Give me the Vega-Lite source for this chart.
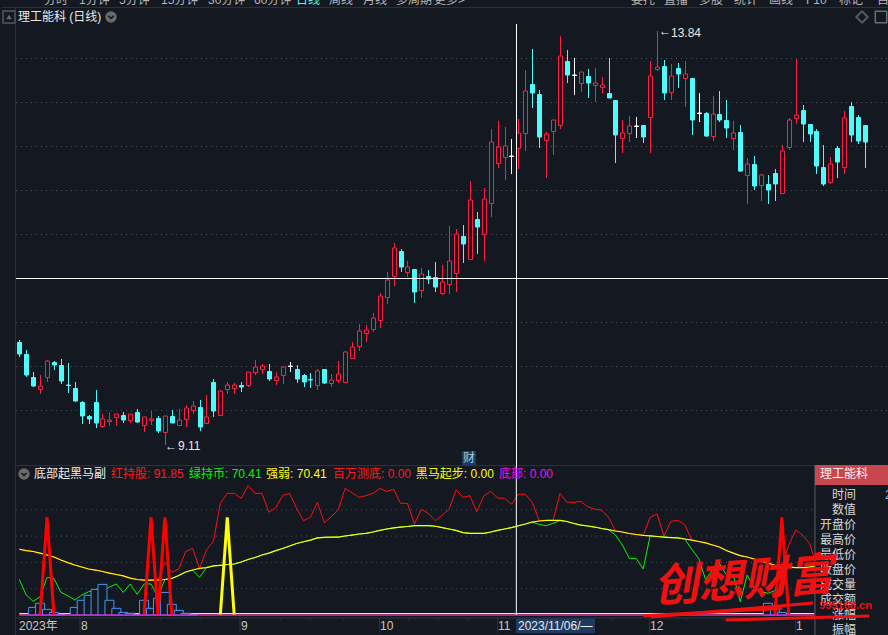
{"$schema":"https://vega.github.io/schema/vega-lite/v6.json","background":"#141820","padding":0,"spacing":0,"bounds":"flush","resolve":{"scale":{"color":"independent","stroke":"independent","fill":"independent"}},"config":{"view":{"stroke":null},"text":{"font":"Liberation Sans, Noto Sans CJK SC"}},
"datasets":{
"candles":[
{"i":0,"t":"down","o":10.29,"h":10.31,"l":10.12,"c":10.15},{"i":1,"t":"down","o":10.15,"h":10.19,"l":9.89,"c":9.91},{"i":2,"t":"down","o":9.89,"h":9.94,"l":9.77,"c":9.78},{"i":3,"t":"up","o":9.75,"h":9.91,"l":9.69,"c":9.78},{"i":4,"t":"up","o":9.89,"h":10.08,"l":9.83,"c":10.07},{"i":5,"t":"down","o":10.06,"h":10.07,"l":9.97,"c":10.02},{"i":6,"t":"down","o":10.02,"h":10.09,"l":9.81,"c":9.84},{"i":7,"t":"down","o":9.8,"h":10.05,"l":9.7,"c":9.79},{"i":8,"t":"down","o":9.76,"h":9.83,"l":9.6,"c":9.61},{"i":9,"t":"down","o":9.6,"h":9.61,"l":9.35,"c":9.44},
{"i":10,"t":"down","o":9.44,"h":9.45,"l":9.35,"c":9.41},{"i":11,"t":"down","o":9.6,"h":9.74,"l":9.3,"c":9.36},{"i":12,"t":"up","o":9.33,"h":9.46,"l":9.3,"c":9.41},{"i":13,"t":"up","o":9.38,"h":9.49,"l":9.33,"c":9.4},{"i":14,"t":"up","o":9.43,"h":9.46,"l":9.33,"c":9.46},{"i":15,"t":"down","o":9.45,"h":9.49,"l":9.36,"c":9.4},{"i":16,"t":"up","o":9.4,"h":9.46,"l":9.36,"c":9.46},{"i":17,"t":"down","o":9.49,"h":9.52,"l":9.36,"c":9.37},{"i":18,"t":"up","o":9.34,"h":9.43,"l":9.26,"c":9.43},{"i":19,"t":"up","o":9.39,"h":9.5,"l":9.34,"c":9.41},
{"i":20,"t":"down","o":9.42,"h":9.44,"l":9.25,"c":9.27},{"i":21,"t":"up","o":9.26,"h":9.44,"l":9.11,"c":9.44},{"i":22,"t":"down","o":9.44,"h":9.51,"l":9.36,"c":9.36},{"i":23,"t":"up","o":9.34,"h":9.52,"l":9.33,"c":9.4},{"i":24,"t":"up","o":9.41,"h":9.57,"l":9.32,"c":9.53},{"i":25,"t":"up","o":9.51,"h":9.61,"l":9.46,"c":9.55},{"i":26,"t":"down","o":9.54,"h":9.62,"l":9.27,"c":9.32},{"i":27,"t":"up","o":9.36,"h":9.68,"l":9.35,"c":9.43},{"i":28,"t":"down","o":9.83,"h":9.86,"l":9.43,"c":9.5},{"i":29,"t":"up","o":9.45,"h":9.74,"l":9.44,"c":9.73},
{"i":30,"t":"up","o":9.75,"h":9.83,"l":9.69,"c":9.8},{"i":31,"t":"up","o":9.76,"h":9.82,"l":9.69,"c":9.8},{"i":32,"t":"down","o":9.8,"h":9.83,"l":9.72,"c":9.77},{"i":33,"t":"up","o":9.8,"h":9.94,"l":9.77,"c":9.94},{"i":34,"t":"up","o":9.94,"h":10.08,"l":9.91,"c":10.0},{"i":35,"t":"up","o":9.98,"h":10.04,"l":9.92,"c":10.01},{"i":36,"t":"down","o":9.96,"h":10.04,"l":9.84,"c":9.86},{"i":37,"t":"up","o":9.85,"h":9.94,"l":9.79,"c":9.89},{"i":38,"t":"up","o":9.91,"h":10.01,"l":9.81,"c":10.0},{"i":39,"t":"flat","o":10.01,"h":10.06,"l":9.94,"c":10.01},
{"i":40,"t":"down","o":9.98,"h":10.02,"l":9.82,"c":9.86},{"i":41,"t":"down","o":9.91,"h":9.92,"l":9.77,"c":9.83},{"i":42,"t":"down","o":9.86,"h":9.93,"l":9.76,"c":9.85},{"i":43,"t":"up","o":9.79,"h":9.98,"l":9.74,"c":9.96},{"i":44,"t":"down","o":9.98,"h":9.98,"l":9.81,"c":9.82},{"i":45,"t":"up","o":9.82,"h":9.92,"l":9.77,"c":9.85},{"i":46,"t":"up","o":9.85,"h":10.07,"l":9.82,"c":9.92},{"i":47,"t":"up","o":9.83,"h":10.18,"l":9.82,"c":10.17},{"i":48,"t":"up","o":10.1,"h":10.29,"l":10.09,"c":10.23},{"i":49,"t":"up","o":10.24,"h":10.49,"l":10.18,"c":10.41},
{"i":50,"t":"up","o":10.39,"h":10.48,"l":10.29,"c":10.42},{"i":51,"t":"up","o":10.44,"h":10.62,"l":10.4,"c":10.56},{"i":52,"t":"up","o":10.54,"h":10.85,"l":10.45,"c":10.81},{"i":53,"t":"up","o":10.8,"h":11.09,"l":10.72,"c":11.0},{"i":54,"t":"up","o":11.04,"h":11.42,"l":10.93,"c":11.36},{"i":55,"t":"down","o":11.33,"h":11.35,"l":11.09,"c":11.14},{"i":56,"t":"up","o":11.09,"h":11.21,"l":11.03,"c":11.14},{"i":57,"t":"down","o":11.12,"h":11.12,"l":10.73,"c":10.86},{"i":58,"t":"up","o":10.88,"h":11.13,"l":10.79,"c":11.06},{"i":59,"t":"down","o":11.04,"h":11.11,"l":10.95,"c":11.01},
{"i":60,"t":"down","o":11.03,"h":11.2,"l":10.86,"c":10.92},{"i":61,"t":"up","o":10.85,"h":11.17,"l":10.82,"c":10.97},{"i":62,"t":"up","o":10.95,"h":11.61,"l":10.84,"c":11.21},{"i":63,"t":"up","o":11.08,"h":11.58,"l":10.86,"c":11.52},{"i":64,"t":"down","o":11.5,"h":11.62,"l":11.19,"c":11.41},{"i":65,"t":"up","o":11.24,"h":12.13,"l":11.24,"c":11.91},{"i":66,"t":"down","o":11.69,"h":11.77,"l":11.29,"c":11.6},{"i":67,"t":"up","o":11.52,"h":12.05,"l":11.21,"c":11.92},{"i":68,"t":"up","o":11.88,"h":12.72,"l":11.71,"c":12.57},{"i":69,"t":"up","o":12.33,"h":12.81,"l":12.27,"c":12.52},
{"i":70,"t":"up","o":12.4,"h":12.74,"l":12.14,"c":12.53},{"i":71,"t":"flat","o":12.41,"h":12.61,"l":12.21,"c":12.41},{"i":72,"t":"up","o":12.5,"h":12.83,"l":12.26,"c":12.67},{"i":73,"t":"up","o":12.67,"h":13.39,"l":12.47,"c":13.15},{"i":74,"t":"down","o":13.23,"h":13.63,"l":12.96,"c":13.13},{"i":75,"t":"down","o":13.12,"h":13.17,"l":12.5,"c":12.63},{"i":76,"t":"up","o":12.59,"h":12.69,"l":12.16,"c":12.66},{"i":77,"t":"up","o":12.7,"h":12.82,"l":12.42,"c":12.82},{"i":78,"t":"up","o":12.77,"h":13.78,"l":12.72,"c":13.55},{"i":79,"t":"down","o":13.5,"h":13.62,"l":13.25,"c":13.34},
{"i":80,"t":"flat","o":13.34,"h":13.53,"l":13.11,"c":13.34},{"i":81,"t":"up","o":13.25,"h":13.37,"l":13.14,"c":13.37},{"i":82,"t":"down","o":13.33,"h":13.41,"l":13.07,"c":13.25},{"i":83,"t":"up","o":13.22,"h":13.42,"l":13.03,"c":13.24},{"i":84,"t":"up","o":13.2,"h":13.31,"l":13.13,"c":13.22},{"i":85,"t":"down","o":13.13,"h":13.53,"l":13.07,"c":13.07},{"i":86,"t":"down","o":13.05,"h":13.05,"l":12.33,"c":12.65},{"i":87,"t":"up","o":12.62,"h":12.82,"l":12.45,"c":12.68},{"i":88,"t":"up","o":12.68,"h":12.87,"l":12.57,"c":12.75},{"i":89,"t":"flat","o":12.75,"h":12.86,"l":12.62,"c":12.75},
{"i":90,"t":"down","o":12.77,"h":12.77,"l":12.56,"c":12.63},{"i":91,"t":"up","o":12.86,"h":13.5,"l":12.45,"c":13.32},{"i":92,"t":"up","o":13.4,"h":13.84,"l":13.38,"c":13.43},{"i":93,"t":"down","o":13.44,"h":13.51,"l":13.05,"c":13.13},{"i":94,"t":"up","o":13.14,"h":13.46,"l":13.05,"c":13.33},{"i":95,"t":"down","o":13.42,"h":13.47,"l":13.19,"c":13.35},{"i":96,"t":"up","o":13.3,"h":13.5,"l":12.97,"c":13.35},{"i":97,"t":"down","o":13.3,"h":13.3,"l":12.65,"c":12.82},{"i":98,"t":"flat","o":12.9,"h":13.13,"l":12.8,"c":12.9},{"i":99,"t":"down","o":12.9,"h":12.91,"l":12.63,"c":12.64},
{"i":100,"t":"up","o":12.64,"h":13.1,"l":12.58,"c":12.89},{"i":101,"t":"down","o":12.89,"h":13.15,"l":12.8,"c":12.82},{"i":102,"t":"down","o":12.82,"h":13.05,"l":12.62,"c":12.73},{"i":103,"t":"up","o":12.62,"h":12.81,"l":12.48,"c":12.67},{"i":104,"t":"down","o":12.69,"h":12.77,"l":12.23,"c":12.24},{"i":105,"t":"up","o":12.19,"h":12.39,"l":11.86,"c":12.32},{"i":106,"t":"down","o":12.32,"h":12.41,"l":12.02,"c":12.07},{"i":107,"t":"up","o":12.08,"h":12.21,"l":11.9,"c":12.2},{"i":108,"t":"down","o":12.09,"h":12.19,"l":11.86,"c":12.02},{"i":109,"t":"down","o":12.22,"h":12.26,"l":11.9,"c":12.09},
{"i":110,"t":"up","o":11.99,"h":12.54,"l":11.98,"c":12.47},{"i":111,"t":"up","o":12.52,"h":12.85,"l":12.48,"c":12.82},{"i":112,"t":"up","o":12.85,"h":13.52,"l":12.78,"c":12.88},{"i":113,"t":"down","o":12.94,"h":12.99,"l":12.57,"c":12.78},{"i":114,"t":"down","o":12.78,"h":12.78,"l":12.57,"c":12.66},{"i":115,"t":"down","o":12.7,"h":12.72,"l":12.21,"c":12.3},{"i":116,"t":"down","o":12.29,"h":12.54,"l":12.07,"c":12.09},{"i":117,"t":"up","o":12.11,"h":12.4,"l":12.09,"c":12.32},{"i":118,"t":"down","o":12.5,"h":12.53,"l":12.16,"c":12.34},{"i":119,"t":"up","o":12.29,"h":12.93,"l":12.21,"c":12.85},
{"i":120,"t":"down","o":12.98,"h":13.03,"l":12.57,"c":12.65},{"i":121,"t":"down","o":12.86,"h":12.88,"l":12.55,"c":12.58},{"i":122,"t":"down","o":12.77,"h":12.77,"l":12.27,"c":12.57}
],
"priceGrid":[{"i":-0.48,"b":125.46,"p":13.53},{"i":-0.48,"b":125.46,"p":13.03},{"i":-0.48,"b":125.46,"p":12.53},{"i":-0.48,"b":125.46,"p":12.02},{"i":-0.48,"b":125.46,"p":11.52},{"i":-0.48,"b":125.46,"p":10.52},{"i":-0.48,"b":125.46,"p":10.01},{"i":-0.48,"b":125.46,"p":9.51}],
"mainText":[
{"i":-0.19,"p":14.0,"label":"理工能科 (日线)","kind":"title"},
{"i":3.56,"p":14.19,"label":"分时","kind":"tool"},{"i":8.61,"p":14.19,"label":"1分钟","kind":"tool"},{"i":14.38,"p":14.19,"label":"5分钟","kind":"tool"},{"i":20.44,"p":14.19,"label":"15分钟","kind":"tool"},{"i":27.22,"p":14.19,"label":"30分钟","kind":"tool"},{"i":33.86,"p":14.19,"label":"60分钟","kind":"tool"},{"i":39.91,"p":14.19,"label":"日线","kind":"active"},{"i":44.68,"p":14.19,"label":"周线","kind":"tool"},{"i":49.58,"p":14.19,"label":"月线","kind":"tool"},{"i":54.34,"p":14.19,"label":"多周期","kind":"tool"},{"i":59.82,"p":14.19,"label":"更多>","kind":"tool"},
{"i":88.24,"p":14.19,"label":"委托","kind":"tool"},{"i":93.0,"p":14.19,"label":"直播","kind":"tool"},{"i":98.05,"p":14.19,"label":"多股","kind":"tool"},{"i":103.1,"p":14.19,"label":"统计","kind":"tool"},{"i":108.14,"p":14.19,"label":"画线","kind":"tool"},{"i":113.5,"p":14.19,"label":"F10","kind":"tool"},{"i":118.25,"p":14.19,"label":"标记","kind":"tool"},{"i":123.7,"p":14.19,"label":"自选","kind":"tool"},
{"i":21.0,"p":9.1,"label":"←","kind":"title"},{"i":22.9,"p":9.1,"label":"9.11","kind":"title"},{"i":92.3,"p":13.84,"label":"←","kind":"title"},{"i":94.0,"p":13.82,"label":"13.84","kind":"title"},
{"i":64.0,"p":8.96,"label":"财","kind":"badge"}
],
"mainIcons":[{"i":13.2,"p":14.0},{"i":-1.49,"p":14.0},{"i":121.6,"p":14.0},{"i":124.3,"p":14.0}],
"series":[
{"i":0,"y":50,"r":50,"g":27.1},{"i":1,"y":49,"r":49,"g":15.2},{"i":2,"y":48.3,"r":48.3,"g":10.4},{"i":3,"y":47.1,"r":47.1,"g":13.9},{"i":4,"y":45.6,"r":45.6,"g":28.6},{"i":5,"y":44.1,"r":44.1,"g":27.9},{"i":6,"y":41.8,"r":41.8,"g":17.2},{"i":7,"y":39.8,"r":39.8,"g":14.7},{"i":8,"y":38,"r":38,"g":11.4},{"i":9,"y":36.5,"r":36.5,"g":15.2},
{"i":10,"y":35,"r":35,"g":17.7},{"i":11,"y":34.2,"r":34.2,"g":19},{"i":12,"y":33.1,"r":33.1,"g":17.7},{"i":13,"y":31.9,"r":31.9,"g":21.3},{"i":14,"y":30.8,"r":30.8,"g":23.6},{"i":15,"y":29.7,"r":29.7,"g":17.2},{"i":16,"y":28.1,"r":28.1,"g":23.6},{"i":17,"y":27,"r":27,"g":15.7},{"i":18,"y":26.6,"r":26.6,"g":23.6},{"i":19,"y":26.6,"r":26.6,"g":23.6},
{"i":20,"y":26.6,"r":26.6,"g":13.9},{"i":21,"y":27,"r":40,"g":27},{"i":22,"y":27.8,"r":32.4,"g":27.8},{"i":23,"y":30,"r":35,"g":30},{"i":24,"y":32.7,"r":48.2,"g":32.7},{"i":25,"y":34.2,"r":50.7,"g":34.2},{"i":26,"y":35.4,"r":35.4,"g":28.6},{"i":27,"y":36.1,"r":49.4,"g":36.1},{"i":28,"y":37.3,"r":56,"g":37.3},{"i":29,"y":37.8,"r":84.9,"g":37.8},
{"i":30,"y":38.4,"r":92.5,"g":38.4},{"i":31,"y":38.8,"r":92.5,"g":38.8},{"i":32,"y":40.3,"r":88.7,"g":40.3},{"i":33,"y":42.2,"r":98.4,"g":42.2},{"i":34,"y":43.7,"r":92.5,"g":43.7},{"i":35,"y":45.6,"r":92.5,"g":45.6},{"i":36,"y":47.1,"r":78.1,"g":47.1},{"i":37,"y":49,"r":81.6,"g":49},{"i":38,"y":50.6,"r":91,"g":50.6},{"i":39,"y":52.5,"r":92.5,"g":52.5},
{"i":40,"y":54.4,"r":81.1,"g":54.4},{"i":41,"y":55.7,"r":71.7,"g":55.7},{"i":42,"y":57,"r":74.3,"g":57},{"i":43,"y":58.6,"r":85.7,"g":58.6},{"i":44,"y":59.1,"r":70.2,"g":59.1},{"i":45,"y":59.2,"r":74.8,"g":59.2},{"i":46,"y":59.3,"r":79.8,"g":59.3},{"i":47,"y":60.1,"r":96.3,"g":60.1},{"i":48,"y":60.8,"r":93,"g":60.8},{"i":49,"y":61.6,"r":89.5,"g":61.6},
{"i":50,"y":62.1,"r":90.7,"g":62.1},{"i":51,"y":63.1,"r":92.5,"g":63.1},{"i":52,"y":64.3,"r":96.3,"g":64.3},{"i":53,"y":65.4,"r":94,"g":65.4},{"i":54,"y":66.2,"r":95.6,"g":66.2},{"i":55,"y":66.9,"r":84.9,"g":66.9},{"i":56,"y":67.3,"r":84.9,"g":67.3},{"i":57,"y":67.9,"r":69.2,"g":67.9},{"i":58,"y":67.9,"r":80.4,"g":67.9},{"i":59,"y":67.9,"r":77.3,"g":67.9},
{"i":60,"y":67.5,"r":71.7,"g":67.5},{"i":61,"y":66.5,"r":76,"g":66.5},{"i":62,"y":65.4,"r":80.4,"g":65.4},{"i":63,"y":64.3,"r":95.1,"g":64.3},{"i":64,"y":62.7,"r":89.5,"g":62.7},{"i":65,"y":62.1,"r":90.7,"g":62.1},{"i":66,"y":62.1,"r":78.6,"g":62.1},{"i":67,"y":62.1,"r":90.5,"g":62.1},{"i":68,"y":63.1,"r":94,"g":63.1},{"i":69,"y":64.3,"r":89,"g":64.3},
{"i":70,"y":65.4,"r":88.7,"g":65.4},{"i":71,"y":66.5,"r":84.2,"g":66.5},{"i":72,"y":67.9,"r":91.85,"g":67.9},{"i":73,"y":69.2,"r":91.8,"g":69.2},{"i":74,"y":70.7,"r":85.7,"g":70.7},{"i":75,"y":71.5,"r":71.5,"g":68.9},{"i":76,"y":71.9,"r":71.9,"g":67.9},{"i":77,"y":72,"r":72,"g":69.7},{"i":78,"y":71.9,"r":92.5,"g":71.9},{"i":79,"y":71.1,"r":85.7,"g":71.1},
{"i":80,"y":69.6,"r":85.7,"g":69.6},{"i":81,"y":68.4,"r":86.4,"g":68.4},{"i":82,"y":67.7,"r":82.4,"g":67.7},{"i":83,"y":66.9,"r":80.4,"g":66.9},{"i":84,"y":65.8,"r":79.8,"g":65.8},{"i":85,"y":64.9,"r":74.3,"g":64.9},{"i":86,"y":63.9,"r":63.9,"g":60.8},{"i":87,"y":63.1,"r":63.1,"g":53.2},{"i":88,"y":62,"r":62,"g":43.1},{"i":89,"y":61.2,"r":61.2,"g":43.1},
{"i":90,"y":60.6,"r":60.6,"g":35},{"i":91,"y":60.2,"r":74.3,"g":60.2},{"i":92,"y":59.7,"r":76.8,"g":59.7},{"i":93,"y":59.3,"r":60.1,"g":59.3},{"i":94,"y":58.9,"r":71.2,"g":58.9},{"i":95,"y":58.6,"r":72,"g":58.6},{"i":96,"y":57.8,"r":68.7,"g":57.8},{"i":97,"y":57,"r":57,"g":50},{"i":98,"y":55.9,"r":55.9,"g":43.1},{"i":99,"y":54.8,"r":54.8,"g":27.1},
{"i":100,"y":53.2,"r":53.2,"g":34.2},{"i":101,"y":51.7,"r":51.7,"g":39.3},{"i":102,"y":49,"r":49,"g":30.4},{"i":103,"y":47.1,"r":47.1,"g":30.4},{"i":104,"y":45.2,"r":45.2,"g":10.1},{"i":105,"y":44.1,"r":44.1,"g":30.4},{"i":106,"y":42.6,"r":42.6,"g":20.3},{"i":107,"y":41.1,"r":41.1,"g":17.7},{"i":108,"y":39.5,"r":39.5,"g":16.5},{"i":109,"y":37.8,"r":37.8,"g":18.5},
{"i":110,"y":36.9,"r":36.9,"g":34.2},{"i":111,"y":36.5,"r":53.2,"g":36.5},{"i":112,"y":36.1,"r":64.6,"g":36.1},{"i":113,"y":36.1,"r":60.8,"g":36.1},{"i":114,"y":36.5,"r":54.5,"g":36.5},{"i":115,"y":37.5,"r":37.5,"g":36.8}
],
"blue":[{"i":2,"v":5.8},{"i":3,"v":8.9},{"i":4,"v":4.3},{"i":5,"v":2},{"i":6,"v":0.5},{"i":8,"v":5.8},{"i":9,"v":11.2},{"i":10,"v":15},{"i":11,"v":19.5},{"i":12,"v":23.3},{"i":13,"v":11.2},{"i":14,"v":5.1},{"i":15,"v":2},{"i":16,"v":1.3},{"i":17,"v":0.5},{"i":18,"v":11.2},{"i":19,"v":5.1},{"i":20,"v":12.7},{"i":21,"v":17.2},{"i":22,"v":8.1},{"i":23,"v":3.5},{"i":24,"v":1.3},{"i":25,"v":0.5},{"i":108,"v":8.9},{"i":109,"v":5.1},{"i":110,"v":2}],
"spikes":[{"i":3,"v":0,"s":"a","n":"百万测底"},{"i":4,"v":74.3,"s":"a","n":"百万测底"},{"i":5,"v":0,"s":"a","n":"百万测底"},{"i":18,"v":0,"s":"b","n":"百万测底"},{"i":19,"v":74.3,"s":"b","n":"百万测底"},{"i":20,"v":0,"s":"b","n":"百万测底"},{"i":20,"v":0,"s":"c","n":"百万测底"},{"i":21,"v":74.3,"s":"c","n":"百万测底"},{"i":22,"v":0,"s":"c","n":"百万测底"},{"i":109,"v":0,"s":"d","n":"百万测底"},{"i":110,"v":74.3,"s":"d","n":"百万测底"},{"i":111,"v":0,"s":"d","n":"百万测底"},{"i":29,"v":0,"s":"e","n":"黑马起步"},{"i":30,"v":74.3,"s":"e","n":"黑马起步"},{"i":31,"v":0,"s":"e","n":"黑马起步"}],
"base":[{"i":0,"h":1.1,"m":-0.1},{"i":114.7,"h":1.1,"m":-0.1}],
"lowGrid":[{"i":-0.48,"b":114.78,"v":20},{"i":-0.48,"b":114.78,"v":40},{"i":-0.48,"b":114.78,"v":60},{"i":-0.48,"b":114.78,"v":80}],
"lowText":[
{"i":2.12,"v":107.2,"label":"底部起黑马副","kind":"white"},{"i":13.23,"v":107.2,"label":"红持股: 91.85","kind":"red"},{"i":24.48,"v":107.2,"label":"绿持币: 70.41","kind":"green"},{"i":35.6,"v":107.2,"label":"强弱: 70.41","kind":"yellow"},{"i":45.25,"v":107.2,"label":"百万测底: 0.00","kind":"red"},{"i":57.2,"v":107.2,"label":"黑马起步: 0.00","kind":"yellow"},{"i":69.2,"v":107.2,"label":"底部: 0.00","kind":"magenta"},
{"i":-0.04,"v":-8.4,"label":"2023年","kind":"axis"},{"i":8.9,"v":-8.4,"label":"8","kind":"axis"},{"i":31.98,"v":-8.4,"label":"9","kind":"axis"},{"i":52.03,"v":-8.4,"label":"10","kind":"axis"},{"i":69.06,"v":-8.4,"label":"11","kind":"axis"},{"i":91,"v":-8.4,"label":"12","kind":"axis"},{"i":112.04,"v":-8.4,"label":"1","kind":"axis"}
],
"seps":[{"i":8.76,"a":-2.28,"b":-13.7},{"i":31.84,"a":-2.28,"b":-13.7},{"i":51.95,"a":-2.28,"b":-13.7},{"i":69,"a":-2.28,"b":-13.7},{"i":90.9,"a":-2.28,"b":-13.7},{"i":112,"a":-2.28,"b":-13.7},{"i":14.57,"a":-2.28,"b":-4},{"i":20.34,"a":-2.28,"b":-4},{"i":26.1,"a":-2.28,"b":-4},{"i":37.65,"a":-2.28,"b":-4},{"i":41.98,"a":-2.28,"b":-4},{"i":46.8,"a":-2.28,"b":-4},{"i":56.2,"a":-2.28,"b":-4},{"i":60.4,"a":-2.28,"b":-4},{"i":64.7,"a":-2.28,"b":-4},{"i":85.4,"a":-2.28,"b":-4},{"i":96.2,"a":-2.28,"b":-4},{"i":101.5,"a":-2.28,"b":-4},{"i":106.7,"a":-2.28,"b":-4}],
"info":[{"i":120.7,"v":91.3,"label":"时间"},{"i":120.7,"v":79.8,"label":"数值"},{"i":120.7,"v":68.4,"label":"开盘价"},{"i":120.7,"v":57,"label":"最高价"},{"i":120.7,"v":45.6,"label":"最低价"},{"i":120.7,"v":34.2,"label":"收盘价"},{"i":120.7,"v":22.8,"label":"成交量"},{"i":120.7,"v":11.4,"label":"成交额"},{"i":120.7,"v":0,"label":"涨幅"},{"i":120.7,"v":-11.4,"label":"振幅"}],
"streaks":[{"i":91.1,"v":-1.5,"s":"a"},{"i":114.5,"v":9.1,"s":"a"},{"i":101.9,"v":-3.8,"s":"b"},{"i":122.6,"v":-0.8,"s":"b"},{"i":90,"v":-0.5,"s":"c"},{"i":110,"v":5,"s":"c"}]
},
"vconcat":[
{"width":888,"height":465,
"encoding":{"x":{"field":"i","type":"quantitative","axis":null,"scale":{"domain":[-2.64,125.46],"nice":false,"zero":false,"round":true,"padding":0}},"y":{"field":"p","type":"quantitative","axis":null,"scale":{"domain":[8.881,14.194],"nice":false,"zero":false,"round":true,"padding":0}}},
"layer":[
{"data":{"name":"priceGrid"},"mark":{"type":"rule","stroke":"#4a505a","strokeWidth":1,"strokeDash":[1,4],"yOffset":0.5},"encoding":{"x2":{"field":"b"}}},
{"data":{"values":[{"i":-0.55,"p":14.11,"u":8.881}]},"mark":{"type":"rule","stroke":"#2b2f37","strokeWidth":1,"xOffset":0.5},"encoding":{"y2":{"field":"u"}}},
{"data":{"values":[{"i":-2.64,"b":125.46,"p":14.11}]},"mark":{"type":"rule","stroke":"#2b2f37","strokeWidth":1,"yOffset":0.5},"encoding":{"x2":{"field":"b"}}},
{"data":{"name":"candles"},"mark":{"type":"rule","strokeWidth":1,"xOffset":0.5},"encoding":{"y":{"field":"h","type":"quantitative"},"y2":{"field":"l"},"stroke":{"field":"t","type":"nominal","legend":null,"scale":{"domain":["up","down","flat"],"range":["#FF2040","#50FBFB","#FFFFFF"]}}}},
{"data":{"name":"candles"},"mark":{"type":"bar","orient":"vertical","width":4,"strokeWidth":1,"xOffset":0.5,"yOffset":0.5},"encoding":{"y":{"field":"o","type":"quantitative"},"y2":{"field":"c"},"stroke":{"field":"t","type":"nominal","legend":null,"scale":{"domain":["up","down","flat"],"range":["#FF2040","#50FBFB","#FFFFFF"]}},"fill":{"field":"t","type":"nominal","legend":null,"scale":{"domain":["up","down","flat"],"range":["#141820","#50FBFB","#FFFFFF"]}}}},
{"data":{"values":[{"i":71.7,"a":13.92,"b":8.881}]},"mark":{"type":"rule","stroke":"#FFFFFF","strokeWidth":1,"xOffset":0.5},"encoding":{"y":{"field":"a","type":"quantitative"},"y2":{"field":"b"}}},
{"data":{"values":[{"i":-0.48,"b":125.46,"p":11.02}]},"mark":{"type":"rule","stroke":"#FFFFFF","strokeWidth":1,"yOffset":0.5},"encoding":{"x2":{"field":"b"}}},
{"data":{"values":[{"a":63.86,"b":65.88,"t":9.04,"u":8.881}]},"mark":{"type":"rect","fill":"#1E3A5F"},"encoding":{"x":{"field":"a","type":"quantitative"},"x2":{"field":"b"},"y":{"field":"t","type":"quantitative"},"y2":{"field":"u"}}},
{"data":{"name":"mainText"},"mark":{"type":"text","align":"left","baseline":"middle","fontSize":12,"clip":true},"encoding":{"text":{"field":"label"},"color":{"field":"kind","type":"nominal","legend":null,"scale":{"domain":["title","tool","active","badge"],"range":["#E8E8E8","#B5B5B5","#50FBFB","#9FD0E8"]}}}},
{"data":{"name":"mainIcons"},"transform":[{"filter":"datum.i==13.2"}],"mark":{"type":"point","shape":"circle","filled":true,"size":130,"color":"#6A6A6A","opacity":1}},
{"data":{"name":"mainIcons"},"transform":[{"filter":"datum.i==13.2"}],"mark":{"type":"point","shape":"M-1,-0.4L0,0.5L1,-0.4","size":30,"stroke":"#141820","strokeWidth":1.5,"filled":false,"opacity":1}},
{"data":{"name":"mainIcons"},"transform":[{"filter":"datum.i==-1.49"}],"mark":{"type":"point","shape":"square","size":144,"stroke":"#44484F","strokeJoin":"round","filled":false,"opacity":1}},
{"data":{"name":"mainIcons"},"transform":[{"filter":"datum.i==-1.49"}],"mark":{"type":"point","shape":"triangle-up","size":30,"color":"#666A70","filled":true,"opacity":1}},
{"data":{"name":"mainIcons"},"transform":[{"filter":"datum.i==121.6"}],"mark":{"type":"point","shape":"diamond","size":130,"stroke":"#55595F","strokeJoin":"round","filled":false,"opacity":1}},
{"data":{"name":"mainIcons"},"transform":[{"filter":"datum.i==124.3"}],"mark":{"type":"point","shape":"square","size":130,"stroke":"#6A6E74","strokeJoin":"round","strokeWidth":1.5,"filled":false,"opacity":1}}
]},
{"width":888,"height":170,
"encoding":{"x":{"field":"i","type":"quantitative","axis":null,"scale":{"domain":[-2.64,125.46],"nice":false,"zero":false,"padding":0}},"y":{"field":"v","type":"quantitative","axis":null,"scale":{"domain":[-15.2,114.07],"nice":false,"zero":false,"padding":0}}},
"layer":[
{"data":{"values":[{"i":-0.55,"v":114.07,"u":-15.2}]},"mark":{"type":"rule","stroke":"#2b2f37","strokeWidth":1},"encoding":{"y2":{"field":"u"}}},
{"data":{"values":[{"i":-0.55,"b":125.46,"v":113.6}]},"mark":{"type":"rule","stroke":"#30343C","strokeWidth":1},"encoding":{"x2":{"field":"b"}}},
{"data":{"values":[{"i":-0.55,"b":114.78,"v":-2.28}]},"mark":{"type":"rule","stroke":"#30343C","strokeWidth":1},"encoding":{"x2":{"field":"b"}}},
{"data":{"name":"lowGrid"},"mark":{"type":"rule","stroke":"#4a505a","strokeWidth":1,"strokeDash":[1,4]},"encoding":{"x2":{"field":"b"}}},
{"data":{"name":"seps"},"mark":{"type":"rule","stroke":"#30343C","strokeWidth":1},"encoding":{"y":{"field":"a","type":"quantitative"},"y2":{"field":"b"}}},
{"data":{"name":"series"},"mark":{"type":"line","stroke":"#10F010","strokeWidth":1},"encoding":{"y":{"field":"g","type":"quantitative"}}},
{"data":{"name":"series"},"mark":{"type":"line","stroke":"#FF1010","strokeWidth":1},"encoding":{"y":{"field":"r","type":"quantitative"}}},
{"data":{"name":"base"},"mark":{"type":"line","stroke":"#FFFF00","strokeWidth":1.2},"encoding":{"y":{"field":"h","type":"quantitative"}}},
{"data":{"name":"blue"},"mark":{"type":"bar","orient":"vertical","width":9,"fill":"#141820","stroke":"#3E9BF5","strokeWidth":1},"encoding":{"y":{"field":"v","type":"quantitative"},"y2":{"datum":0}}},
{"data":{"name":"series"},"mark":{"type":"line","stroke":"#FFFF00","strokeWidth":1.2},"encoding":{"y":{"field":"y","type":"quantitative"}}},
{"data":{"name":"spikes"},"mark":{"type":"line","strokeWidth":3},"encoding":{"detail":{"field":"s"},"stroke":{"field":"n","type":"nominal","legend":null,"scale":{"domain":["百万测底","黑马起步"],"range":["#FF0000","#FFFF00"]}}}},
{"data":{"name":"base"},"mark":{"type":"line","stroke":"#FF10E0","strokeWidth":1.2},"encoding":{"y":{"field":"m","type":"quantitative"}}},
{"data":{"values":[{"i":71.7,"a":114.07,"b":0}]},"mark":{"type":"rule","stroke":"#FFFFFF","strokeWidth":1},"encoding":{"y":{"field":"a","type":"quantitative"},"y2":{"field":"b"}}},
{"data":{"values":[{"a":71.65,"b":83.05,"t":-2.6,"u":-13.7}]},"mark":{"type":"rect","fill":"#1F3A5F"},"encoding":{"x":{"field":"a","type":"quantitative"},"x2":{"field":"b"},"y":{"field":"t","type":"quantitative"},"y2":{"field":"u"}}},
{"data":{"values":[{"i":71.94,"v":-8.4,"label":"2023/11/06/—"}]},"mark":{"type":"text","align":"left","baseline":"middle","fontSize":12,"color":"#E8E8E8"},"encoding":{"text":{"field":"label"}}},
{"data":{"name":"lowText"},"mark":{"type":"text","align":"left","baseline":"middle","fontSize":12},"encoding":{"text":{"field":"label"},"color":{"field":"kind","type":"nominal","legend":null,"scale":{"domain":["white","red","green","yellow","magenta","axis"],"range":["#F0F0F0","#FF1A1A","#10F010","#FFFF00","#F010F0","#C8C8C8"]}}}},
{"data":{"values":[{"i":0.68,"v":107.2}]},"mark":{"type":"point","shape":"circle","filled":true,"size":130,"color":"#6A6A6A","opacity":1}},
{"data":{"values":[{"i":0.68,"v":107.2}]},"mark":{"type":"point","shape":"M-1,-0.4L0,0.5L1,-0.4","size":30,"stroke":"#141820","strokeWidth":1.5,"filled":false,"opacity":1}},
{"data":{"values":[{"a":114.78,"b":125.46,"t":114.07,"u":-15.2}]},"mark":{"type":"rect","fill":"#141820"},"encoding":{"x":{"field":"a","type":"quantitative"},"x2":{"field":"b"},"y":{"field":"t","type":"quantitative"},"y2":{"field":"u"}}},
{"data":{"values":[{"i":114.78,"v":114.07,"u":-15.2}]},"mark":{"type":"rule","stroke":"#5A5E64","strokeWidth":1},"encoding":{"y2":{"field":"u"}}},
{"data":{"values":[{"a":114.78,"b":125.46,"t":114.07,"u":98.9}]},"mark":{"type":"rect","fill":"#C8464E"},"encoding":{"x":{"field":"a","type":"quantitative"},"x2":{"field":"b"},"y":{"field":"t","type":"quantitative"},"y2":{"field":"u"}}},
{"data":{"values":[{"i":115.5,"v":107.2,"label":"理工能科"}]},"mark":{"type":"text","align":"left","baseline":"middle","fontSize":12,"color":"#F5F5F5"},"encoding":{"text":{"field":"label"}}},
{"data":{"name":"info"},"mark":{"type":"text","align":"right","baseline":"middle","fontSize":12,"color":"#D8D8D8"},"encoding":{"text":{"field":"label"}}},
{"data":{"values":[{"i":124.9,"v":91.3,"label":"2"}]},"mark":{"type":"text","align":"left","baseline":"middle","fontSize":12,"color":"#8FC0E8"},"encoding":{"text":{"field":"label"}}},
{"data":{"name":"streaks"},"mark":{"type":"line","stroke":"#F01010","strokeWidth":3},"encoding":{"detail":{"field":"s"}}},
{"data":{"values":[{"i":104.4,"v":25.1,"label":"创想财富"}]},"mark":{"type":"text","align":"center","baseline":"middle","fontSize":45,"fontWeight":"bold","fontStyle":"italic","angle":-4,"color":"#F01010","font":"Noto Sans CJK SC"},"encoding":{"text":{"field":"label"}}},
{"data":{"values":[{"i":115.4,"v":6.8,"label":"995168.cn"}]},"mark":{"type":"text","align":"left","baseline":"middle","fontSize":11,"fontWeight":"bold","color":"#F01010"},"encoding":{"text":{"field":"label"}}}
]}
]}
